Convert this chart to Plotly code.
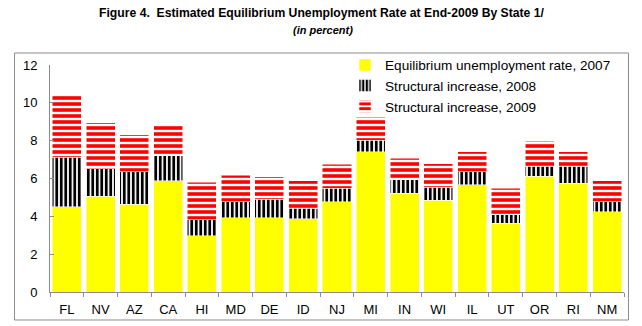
import plotly.graph_objects as go

# States and rates (percent)
states = ["FL", "NV", "AZ", "CA", "HI", "MD", "DE", "ID", "NJ", "MI",
          "IN", "WI", "IL", "UT", "OR", "RI", "NM"]
rate_2007 = [4.51, 5.07, 4.65, 5.87, 2.98, 3.93, 3.93, 3.86, 4.76, 7.42,
             5.23, 4.86, 5.67, 3.63, 6.13, 5.74, 4.25]
increase_2008 = [2.61, 1.45, 1.71, 1.32, 0.83, 0.83, 0.97, 0.56, 0.72, 0.59,
                 0.71, 0.67, 0.69, 0.46, 0.51, 0.90, 0.51]
increase_2009 = [3.35, 2.43, 1.94, 1.64, 2.00, 1.42, 1.19, 1.45, 1.27, 1.22,
                 1.14, 1.24, 1.06, 1.39, 1.32, 0.78, 1.11]

series_names = ["Equilibrium unemployment rate, 2007",
                "Structural increase, 2008",
                "Structural increase, 2009"]

FONT = "Liberation Sans, Arial, sans-serif"
AXIS_GRAY = "#8c8c8c"

fig = go.Figure()
fig.add_trace(go.Bar(
    x=states, y=rate_2007, name=series_names[0],
    marker=dict(color="#ffff00", line=dict(color="white", width=0.5)),
))
fig.add_trace(go.Bar(
    x=states, y=increase_2008, name=series_names[1],
    marker=dict(color="white", line=dict(color="white", width=0.5),
                pattern=dict(shape="|", fgcolor="black", bgcolor="white",
                             size=4.5, solidity=0.62, fillmode="replace")),
))
fig.add_trace(go.Bar(
    x=states, y=increase_2009, name=series_names[2],
    marker=dict(color="white", line=dict(color="white", width=0.5),
                pattern=dict(shape="-", fgcolor="#ff0000", bgcolor="white",
                             size=6, solidity=0.6, fillmode="replace")),
))

# Frame around the whole chart body
fig.add_shape(type="rect", xref="paper", yref="paper",
              x0=-0.0618, x1=1.0078, y0=-0.1233, y1=1.0529,
              line=dict(color=AXIS_GRAY, width=1), layer="below")

fig.add_annotation(text="<b>Figure 4.  Estimated Equilibrium Unemployment Rate at End-2009 By State 1/</b>",
                   xref="paper", yref="paper", x=0.474, y=1.229,
                   xanchor="center", yanchor="middle", showarrow=False,
                   font=dict(family=FONT, size=12.2, color="black"))
fig.add_annotation(text="<b><i>(in percent)</i></b>",
                   xref="paper", yref="paper", x=0.476, y=1.152,
                   xanchor="center", yanchor="middle", showarrow=False,
                   font=dict(family=FONT, size=11, color="black"))

fig.update_layout(
    width=642, height=326,
    margin=dict(l=50, r=18, t=65, b=34),
    barmode="stack", bargap=0.14,
    paper_bgcolor="white", plot_bgcolor="white",
    font=dict(family=FONT, size=13, color="black"),
    legend=dict(x=0.514, y=1.068, xanchor="left", yanchor="top",
                traceorder="normal", bgcolor="rgba(255,255,255,0)",
                font=dict(family=FONT, size=13.6, color="black")),
    xaxis=dict(showline=True, linecolor=AXIS_GRAY, linewidth=1,
               ticks="outside", ticklen=4, tickcolor=AXIS_GRAY,
               tickson="boundaries", showgrid=False, ticklabelstandoff=5,
               automargin=False, tickfont=dict(size=13)),
    yaxis=dict(range=[0, 12], dtick=2, showline=True, linecolor=AXIS_GRAY,
               linewidth=1, ticks="inside", ticklen=4, tickcolor=AXIS_GRAY,
               showgrid=False, zeroline=False, ticklabelstandoff=9,
               automargin=False, tickfont=dict(size=13)),
)

fig.write_html("out.html")
